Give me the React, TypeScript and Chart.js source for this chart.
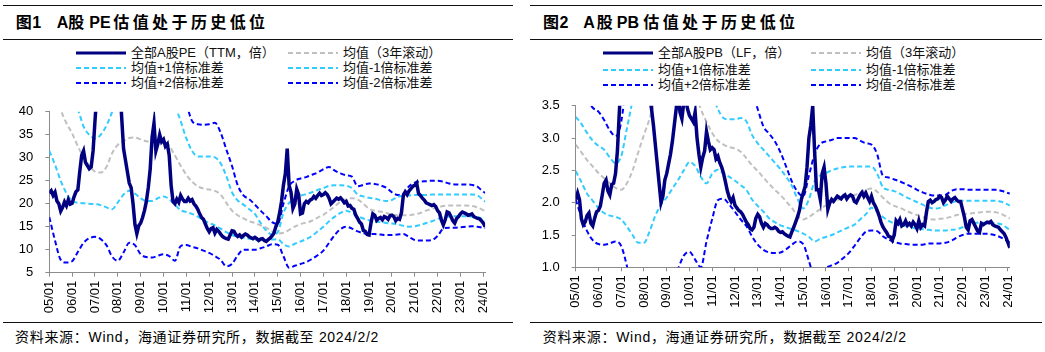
import React, { useEffect, useRef } from "react";
import { Chart, registerables } from "chart.js";

Chart.register(...registerables);

// ---------------- data ----------------
const START_YEAR = 2005;
const X_MAX = 2024.08;

const xTickLabels = [
  "05/01", "06/01", "07/01", "08/01", "09/01", "10/01", "11/01", "12/01", "13/01", "14/01",
  "15/01", "16/01", "17/01", "18/01", "19/01", "20/01", "21/01", "22/01", "23/01", "24/01",
];

const peYTicks = [5, 10, 15, 20, 25, 30, 35, 40];
const pbYTicks = [1.0, 1.5, 2.0, 2.5, 3.0, 3.5];

const peLabels = [
  "全部A股PE（TTM，倍）", "均值（3年滚动）",
  "均值+1倍标准差", "均值-1倍标准差",
  "均值+2倍标准差", "均值-2倍标准差",
];
const pbLabels = [
  "全部A股PB（LF，倍）", "均值（3年滚动）",
  "均值+1倍标准差", "均值-1倍标准差",
  "均值+2倍标准差", "均值-2倍标准差",
];

// monthly, from 2005-01
const peMain = [
  22.3, 22.8, 21.8, 22.5, 20.6, 20.0, 18.4, 19.2, 20.4, 19.6, 20.9, 19.9,
  20.1, 21.5, 22.6, 23.0, 27.0, 30.5, 31.5, 29.0, 28.3, 27.6, 28.0, 31.5,
  38.0, 44.0, 48.0, 52.0, 55.0, 50.0, 56.0, 62.0, 64.0, 66.0, 58.0, 55.0,
  52.0, 46.0, 39.0, 32.0, 29.5, 27.0, 24.5, 23.5, 20.0, 15.5, 13.5, 15.2,
  15.8, 17.0, 18.5, 20.5, 23.5, 27.5, 34.5, 37.5, 31.5, 33.0, 35.0, 33.5,
  34.0, 32.5, 33.0, 30.5, 24.0, 20.5, 20.0, 21.0, 20.3, 21.8, 21.0, 20.5,
  20.5, 21.2, 20.6, 20.9, 20.0, 19.5, 18.8, 17.8, 17.0, 16.6, 15.6, 14.6,
  13.9, 14.6, 14.8, 13.6, 14.4, 14.0, 13.4, 12.9, 12.6, 12.4, 12.3, 13.2,
  14.1, 14.0, 13.3, 12.9, 13.2, 12.7, 13.1, 13.4, 13.2, 12.8, 12.6, 12.4,
  12.7, 12.4, 12.0, 12.3, 12.4, 12.0, 11.8, 12.2, 12.5, 13.0, 13.6, 15.0,
  16.0, 18.0, 20.5, 24.0, 26.5, 32.0, 24.0, 22.5, 19.0, 20.0, 23.2, 22.0,
  17.8, 18.0, 20.0, 20.5, 20.2, 20.8, 21.0, 21.6, 21.2, 21.8, 22.3, 21.8,
  22.0, 22.4, 22.0, 21.2, 20.0, 20.4, 20.8, 21.2, 21.0, 21.3, 20.8, 20.2,
  20.5, 19.5, 19.6, 19.0, 18.8, 17.5, 16.8, 16.0, 15.6, 14.2, 14.0, 13.3,
  13.2, 15.8, 17.8, 17.5, 16.4, 16.8, 17.0, 16.5, 17.2, 17.0, 16.6, 17.4,
  17.5, 17.2, 16.3, 16.8, 16.6, 18.0, 21.8, 22.6, 22.0, 22.8, 23.3, 23.8,
  24.0, 24.5, 22.2, 21.8, 21.2, 20.8, 20.2, 20.0, 19.8, 19.6, 19.8, 19.4,
  18.5, 18.0, 16.4, 15.4, 16.5, 18.2, 18.0, 17.2, 16.3, 15.8, 16.8, 17.2,
  17.8, 18.2, 18.0, 17.8, 17.5, 17.6, 17.8, 17.2, 17.0, 16.8, 16.7, 16.3,
  15.8, 15.0,
];

// quarterly, from 2005-01
const peMean = [
  50, 45, 40.5, 37.5, 35.3, 32.5, 30.1, 28.3, 27.0, 26.8, 28.0, 31.0,
  32.8, 33.6, 34.3, 34.4, 34.0, 33.6, 33.5, 33.8, 34.0, 32.6, 30.5, 28.3,
  26.3, 24.8, 23.8, 23.3, 23.1, 22.8, 22.0, 20.2, 18.5, 17.5, 16.8, 16.2,
  15.8, 15.3, 14.8, 14.0, 13.5, 13.7, 14.3, 15.0, 15.6, 15.9, 16.3, 17.0,
  17.6, 18.5, 19.4, 20.5, 21.0, 21.2, 20.9, 20.0, 18.9, 18.5, 18.3, 18.0,
  17.7, 17.5, 17.5, 17.5, 17.7, 18.0, 18.5, 18.9, 19.2, 19.5, 19.6, 19.6,
  19.6, 19.6, 19.5, 19.2, 18.6, 18.2,
];
const pePlus1 = [
  55, 52, 48, 45, 42, 40.5, 36.8, 35.0, 34.2, 35.0, 37.0, 40.0,
  44, 46, 47, 48, 47, 46, 46, 46.5, 47, 45, 41.5, 38.0,
  34.2, 31.5, 30.3, 30.3, 30.3, 30.1, 28.8, 26.0, 22.5, 20.7, 19.8, 18.8,
  17.8, 15.8, 14.2, 13.3, 13.8, 18.0, 20.2, 21.0, 21.7, 22.1, 22.5, 23.0,
  23.4, 23.9, 24.0, 24.0, 23.9, 23.4, 22.0, 21.6, 21.3, 21.1, 20.8, 20.6,
  20.8, 21.5, 21.7, 21.8, 21.9, 21.9, 21.9, 22.0, 22.0, 22.0, 22.0, 22.0,
  22.0, 22.0, 22.0, 21.8, 20.8, 20.0,
];
const peMinus1 = [
  31.5, 28.5, 25.0, 22.3, 20.6, 20.2, 20.1, 20.0, 19.9, 19.7, 19.2, 18.8,
  20.3, 22.0, 22.8, 22.2, 21.2, 20.6, 20.6, 21.2, 21.6, 21.0, 19.8, 18.6,
  18.2, 17.8, 17.2, 16.4, 15.8, 15.3, 14.6, 13.8, 13.2, 12.8, 12.6, 12.4,
  12.2, 12.0, 12.0, 12.2, 12.3, 11.2, 10.7, 11.3, 11.8, 12.3, 13.0, 14.0,
  15.0, 16.2, 17.2, 18.0, 18.5, 18.0, 17.3, 16.8, 16.4, 16.1, 16.0, 15.8,
  15.7, 15.5, 15.2, 15.0, 15.1, 15.4, 15.8, 16.2, 16.7, 17.1, 17.2, 17.3,
  17.3, 17.3, 17.2, 17.1, 16.6, 16.2,
];
const pePlus2 = [
  70, 66, 62, 58, 54, 50, 47, 45, 44, 46, 50, 55,
  58, 60, 61, 62, 61, 60, 60, 60, 60, 58, 53, 47,
  42, 38.0, 37.3, 37.2, 37.3, 37.6, 35.5, 31.8, 28.2, 24.0, 21.8, 21.0,
  19.8, 18.5, 17.3, 16.0, 15.6, 20.0, 23.8, 25.0, 25.5, 25.8, 26.3, 26.8,
  27.5, 28.0, 27.2, 26.6, 26.2, 25.9, 23.8, 24.1, 24.4, 24.3, 24.0, 23.5,
  22.5, 21.9, 22.2, 23.8, 24.6, 24.8, 24.9, 25.0, 25.0, 24.8, 24.4, 24.2,
  24.2, 24.2, 24.1, 23.7, 22.6, 22.0,
];
const peMinus2 = [
  17.1, 12.0, 7.8, 7.2, 7.5, 9.5, 11.5, 12.5, 12.8, 12.3, 11.0, 8.5,
  7.6, 9.4, 11.5, 11.0, 9.0, 8.4, 8.3, 8.7, 9.0, 8.6, 7.6, 10.8,
  11.0, 10.6, 10.3, 9.8, 9.3, 8.6, 7.8, 6.4, 6.9, 8.8, 10.0, 10.0,
  10.0, 10.3, 10.7, 11.2, 11.1, 8.6, 6.1, 6.5, 6.9, 7.3, 8.0, 8.8,
  9.8, 11.5, 13.2, 14.5, 15.0, 14.6, 14.0, 13.6, 13.4, 13.4, 13.3, 13.2,
  13.2, 13.3, 13.4, 12.8, 12.1, 12.0, 12.0, 12.1, 13.0, 14.6, 14.8, 14.8,
  14.9, 15.0, 15.1, 15.0, 14.8, 14.7,
];

// monthly, from 2005-01
const pbMain = [
  2.05, 2.15, 2.05, 1.75, 1.66, 1.70, 1.80, 1.84, 1.68, 1.64, 1.76, 1.86,
  1.88, 1.95, 2.12, 2.30, 2.35, 2.18, 2.12, 2.28, 2.30, 2.45, 2.80, 3.40,
  3.90, 4.20, 4.60, 5.00, 5.50, 5.30, 5.80, 6.30, 6.60, 6.90, 6.00, 5.80,
  5.20, 4.60, 4.00, 3.65, 3.45, 3.20, 2.90, 2.60, 2.30, 2.00, 2.10, 2.35,
  2.45, 2.60, 2.75, 2.95, 3.20, 3.45, 3.75, 3.40, 3.30, 3.55, 3.60, 3.45,
  3.35, 3.30, 3.25, 3.40, 3.00, 2.75, 2.55, 2.70, 2.80, 3.10, 2.95, 2.82,
  2.85, 2.82, 2.68, 2.72, 2.62, 2.55, 2.45, 2.32, 2.18, 2.08, 2.02, 2.08,
  1.96, 1.92, 1.88, 1.86, 1.82, 1.76, 1.70, 1.66, 1.60, 1.58, 1.62, 1.76,
  1.82, 1.78, 1.68, 1.62, 1.68, 1.66, 1.62, 1.60, 1.60, 1.62, 1.60, 1.56,
  1.54, 1.55, 1.52, 1.50, 1.48, 1.47, 1.55, 1.62, 1.70, 1.78, 1.88, 2.05,
  2.15, 2.25, 2.55, 3.00, 3.20, 3.50, 2.80, 2.20, 2.20, 2.05, 2.45, 2.55,
  2.30, 1.90, 2.00, 2.05, 2.02, 2.06, 2.10, 2.08, 2.06, 2.10, 2.12, 2.06,
  2.10, 2.12, 2.10, 2.02, 2.00, 2.06, 2.12, 2.16, 2.10, 2.15, 2.08, 2.02,
  2.10, 2.00, 1.95, 1.88, 1.80, 1.70, 1.63, 1.58, 1.54, 1.48, 1.47, 1.42,
  1.50, 1.72, 1.68, 1.74, 1.64, 1.66, 1.72, 1.65, 1.68, 1.64, 1.70, 1.66,
  1.60, 1.72, 1.62, 1.66, 1.64, 1.85, 2.02, 2.04, 2.00, 2.02, 2.05, 2.06,
  2.10, 2.08, 2.00, 2.04, 2.10, 2.06, 2.02, 2.06, 2.08, 2.04, 2.02, 2.02,
  1.90, 1.78, 1.62, 1.58, 1.72, 1.74, 1.68, 1.62, 1.56, 1.54, 1.68, 1.66,
  1.68, 1.70, 1.69, 1.71, 1.66, 1.64, 1.63, 1.62, 1.58, 1.55, 1.52, 1.46,
  1.38, 1.30,
];

// quarterly, from 2005-01
const pbMean = [
  2.90, 2.78, 2.66, 2.56, 2.46, 2.38, 2.30, 2.23, 2.20, 2.30, 2.50, 2.78,
  3.05, 3.30, 3.60, 3.85, 3.95, 4.00, 4.00, 3.98, 3.92, 3.70, 3.45, 3.25,
  3.08, 2.96, 2.90, 2.86, 2.84, 2.79, 2.69, 2.58, 2.49, 2.39, 2.29, 2.20,
  2.12, 2.02, 1.92, 1.80, 1.74, 1.78, 1.84, 1.90, 1.96, 2.00, 2.04, 2.07,
  2.10, 2.12, 2.15, 2.20, 2.22, 2.17, 2.08, 2.00, 1.95, 1.92, 1.88, 1.84,
  1.81, 1.78, 1.75, 1.74, 1.75, 1.76, 1.78, 1.81, 1.82, 1.83, 1.84, 1.85,
  1.86, 1.86, 1.85, 1.82, 1.77, 1.74,
];
const pbPlus1 = [
  3.33, 3.22, 3.08, 2.96, 2.88, 2.82, 2.70, 2.61, 2.72, 3.15, 3.60, 4.20,
  4.70, 5.00, 5.20, 5.30, 5.30, 5.20, 5.10, 5.00, 4.90, 4.70, 4.40, 4.00,
  3.70, 3.45, 3.31, 3.29, 3.29, 3.31, 3.26, 3.05, 2.92, 2.82, 2.72, 2.62,
  2.52, 2.40, 2.26, 2.06, 1.91, 2.05, 2.33, 2.42, 2.46, 2.50, 2.53, 2.55,
  2.56, 2.56, 2.56, 2.56, 2.56, 2.45, 2.24, 2.20, 2.18, 2.14, 2.09, 2.05,
  2.01, 1.97, 1.93, 1.91, 1.92, 1.96, 2.00, 2.02, 2.03, 2.03, 2.03, 2.03,
  2.03, 2.03, 2.03, 2.01, 1.97, 1.94,
];
const pbMinus1 = [
  2.49, 2.32, 2.14, 2.03, 1.92, 1.84, 1.80, 1.78, 1.74, 1.63, 1.50, 1.38,
  1.38, 1.56, 1.80, 1.97, 2.08, 2.22, 2.35, 2.50, 2.63, 2.57, 2.40, 2.30,
  2.45, 2.51, 2.45, 2.40, 2.34, 2.27, 2.20, 2.05, 1.95, 1.86, 1.76, 1.70,
  1.65, 1.62, 1.59, 1.56, 1.52, 1.47, 1.40, 1.44, 1.47, 1.50, 1.54, 1.58,
  1.62, 1.66, 1.74, 1.82, 1.92, 1.86, 1.78, 1.72, 1.68, 1.66, 1.64, 1.62,
  1.60, 1.59, 1.58, 1.57, 1.57, 1.57, 1.58, 1.59, 1.62, 1.67, 1.69, 1.69,
  1.69, 1.69, 1.68, 1.66, 1.60, 1.56,
];
const pbPlus2 = [
  4.20, 3.95, 3.62, 3.47, 3.41, 3.28, 3.12, 3.03, 3.25, 4.00, 5.00, 5.60,
  6.00, 6.30, 6.50, 6.60, 6.60, 6.50, 6.40, 6.30, 6.20, 5.90, 5.50, 5.00,
  4.60, 4.35, 4.05, 3.95, 3.95, 4.00, 3.90, 3.70, 3.45, 3.18, 3.07, 2.95,
  2.78, 2.56, 2.33, 2.17, 2.10, 2.42, 2.75, 2.91, 2.95, 2.97, 3.00, 3.00,
  3.00, 3.00, 2.96, 2.92, 2.90, 2.75, 2.42, 2.39, 2.36, 2.33, 2.29, 2.25,
  2.20, 2.16, 2.13, 2.11, 2.11, 2.12, 2.18, 2.21, 2.21, 2.20, 2.20, 2.20,
  2.20, 2.20, 2.20, 2.18, 2.15, 2.13,
];
const pbMinus2 = [
  2.05, 1.78, 1.56, 1.42, 1.36, 1.35, 1.37, 1.40, 1.33, 1.02, 0.60, 0.30,
  0.20, 0.20, 0.30, 0.45, 0.60, 0.80, 0.98, 1.18, 1.24, 1.12, 1.00, 1.40,
  1.75, 2.04, 2.06, 1.97, 1.86, 1.74, 1.64, 1.48, 1.35, 1.27, 1.23, 1.22,
  1.23, 1.28, 1.35, 1.40, 1.36, 1.10, 0.85, 0.90, 0.99, 1.03, 1.07, 1.14,
  1.22, 1.33, 1.45, 1.55, 1.57, 1.56, 1.48, 1.43, 1.39, 1.37, 1.36, 1.35,
  1.35, 1.35, 1.37, 1.37, 1.37, 1.38, 1.41, 1.46, 1.50, 1.52, 1.52, 1.52,
  1.52, 1.51, 1.49, 1.45, 1.40, 1.37,
];

// ---------------- styles ----------------
const NAVY = "#000080";
const GRAY = "#C0C0C0";
const SKY = "#33CCFF";
const BLUE = "#0000FF";
const AXIS = "#8C8C8C";
const FONT_LATIN = '"Liberation Sans", Arial, sans-serif';
const FONT_MIXED = '"Liberation Sans", "Noto Sans CJK SC", sans-serif';

const seriesStyles = [
  { color: NAVY, width: 3.5, dash: [] as number[] },
  { color: GRAY, width: 2, dash: [5, 3] },
  { color: SKY, width: 2, dash: [5, 3] },
  { color: SKY, width: 2, dash: [5, 3] },
  { color: BLUE, width: 2, dash: [5, 3] },
  { color: BLUE, width: 2, dash: [5, 3] },
];

type ChartCfg = {
  left: number; top: number; width: number; height: number;
  padTop: number; padRight: number; yAxisW: number; xAxisH: number;
  yMin: number; yMax: number; yTicks: number[]; decimals: number;
  labels: string[]; main: number[]; bands: number[][];
};

function ValuationChart({ cfg }: { cfg: ChartCfg }) {
  const ref = useRef<HTMLCanvasElement | null>(null);
  useEffect(() => {
    if (!ref.current) return;
    const monthly = (arr: number[]) => arr.map((v, i) => ({ x: START_YEAR + i / 12, y: v }));
    const quarterly = (arr: number[]) => arr.map((v, i) => ({ x: START_YEAR + i / 4, y: v }));
    const all = [cfg.main, ...cfg.bands];
    const datasets = all.map((arr, k) => ({
      label: cfg.labels[k],
      data: k === 0 ? monthly(arr) : quarterly(arr),
      borderColor: seriesStyles[k].color,
      borderWidth: seriesStyles[k].width,
      borderDash: seriesStyles[k].dash,
      pointRadius: 0,
      fill: false,
      tension: k === 0 ? 0 : 0.4,
      cubicInterpolationMode: k === 0 ? "default" : "monotone",
      clip: 0,
    }));
    const tickFont = { family: FONT_LATIN, size: 13 };
    const chart = new Chart(ref.current, {
      type: "line",
      data: { datasets: datasets as any },
      options: {
        animation: false,
        responsive: false,
        events: [],
        layout: { padding: { top: cfg.padTop, right: cfg.padRight, left: 0, bottom: 0 } },
        plugins: { legend: { display: false }, tooltip: { enabled: false }, title: { display: false } },
        scales: {
          x: {
            type: "linear",
            min: START_YEAR,
            max: X_MAX,
            afterBuildTicks: (s: any) => {
              s.ticks = xTickLabels.map((_, i) => ({ value: START_YEAR + i }));
            },
            afterFit: (s: any) => { s.height = cfg.xAxisH; },
            ticks: {
              autoSkip: false,
              minRotation: 90,
              maxRotation: 90,
              padding: 4,
              color: "#000",
              font: tickFont,
              callback: (_v: any, i: number) => xTickLabels[i],
            },
            grid: { display: true, drawOnChartArea: false, drawTicks: true, tickLength: 4, color: AXIS },
            border: { display: true, color: AXIS, width: 1 },
          },
          y: {
            type: "linear",
            min: cfg.yMin,
            max: cfg.yMax,
            afterBuildTicks: (s: any) => {
              s.ticks = cfg.yTicks.map((v) => ({ value: v }));
            },
            afterFit: (s: any) => { s.width = cfg.yAxisW; },
            ticks: {
              padding: 12,
              color: "#000",
              font: tickFont,
              callback: (v: any) => Number(v).toFixed(cfg.decimals),
            },
            grid: { display: true, drawOnChartArea: false, drawTicks: true, tickLength: 4, color: AXIS },
            border: { display: true, color: AXIS, width: 1 },
          },
        },
      } as any,
    });
    return () => chart.destroy();
  }, []);
  return (
    <canvas
      ref={ref}
      width={cfg.width}
      height={cfg.height}
      style={{ position: "absolute", left: cfg.left, top: cfg.top, width: cfg.width, height: cfg.height }}
    />
  );
}

function Rule({ left, top, width }: { left: number; top: number; width: number }) {
  return <div style={{ position: "absolute", left, top, width, height: 1, background: "#111" }} />;
}

// each title glyph placed at its own offset (px from the title's left edge)
const peTitle: [string, number][] = [
  ["图", 0], ["1", 16.6], ["A", 41], ["股", 52.6], ["P", 73.6], ["E", 84.3],
  ["估", 97.6], ["值", 117], ["处", 136.4], ["于", 155.8], ["历", 175.2], ["史", 194.6], ["低", 214], ["位", 233.4],
];
const pbTitle: [string, number][] = [
  ["图", 0], ["2", 16.6], ["A", 40.3], ["股", 53.7], ["P", 73.7], ["B", 84.5],
  ["估", 100.3], ["值", 119.7], ["处", 139.1], ["于", 158.5], ["历", 177.9], ["史", 197.3], ["低", 216.7], ["位", 236.1],
];

function Title({ left, glyphs }: { left: number; glyphs: [string, number][] }) {
  return (
    <>
      {glyphs.map(([ch, dx], i) => (
        <span key={i} style={{
          position: "absolute", left: left + dx, top: 15, fontSize: 16, lineHeight: "16px", fontWeight: 700,
          fontFamily: FONT_MIXED, color: "#000", whiteSpace: "pre",
        }}>{ch}</span>
      ))}
    </>
  );
}

function Legend({ labels, col1, col2, rows }: { labels: string[]; col1: number; col2: number; rows: number[] }) {
  const items = labels.map((label, k) => {
    const col = k % 2 === 0 ? col1 : col2;
    const cy = rows[Math.floor(k / 2)];
    const st = seriesStyles[k];
    return (
      <React.Fragment key={k}>
        <svg width={50} height={8} style={{ position: "absolute", left: col, top: cy - 4 }}>
          <line x1={0} y1={4} x2={50} y2={4} stroke={st.color} strokeWidth={Math.min(st.width, 3)}
            strokeDasharray={st.dash.length ? st.dash.join(" ") : undefined} />
        </svg>
        <div style={{
          position: "absolute", left: col + 55, top: cy - 8, fontSize: 13, lineHeight: "16px",
          fontFamily: FONT_MIXED, color: "#111", whiteSpace: "pre",
        }}>{label}</div>
      </React.Fragment>
    );
  });
  return <>{items}</>;
}

function Source({ left }: { left: number }) {
  return (
    <div style={{
      position: "absolute", left, top: 328.5, fontSize: 14, lineHeight: "16px", letterSpacing: 0.7,
      fontFamily: FONT_MIXED, color: "#000", whiteSpace: "pre",
    }}>资料来源：Wind，海通证券研究所，数据截至 2024/2/2</div>
  );
}

const peCfg: ChartCfg = {
  left: 0, top: 92, width: 515, height: 230,
  padTop: 9.7, padRight: 29.9, yAxisW: 49.3, xAxisH: 49.3,
  yMin: 5, yMax: 40, yTicks: peYTicks, decimals: 0,
  labels: peLabels, main: peMain, bands: [peMean, pePlus1, peMinus1, pePlus2, peMinus2],
};

const pbCfg: ChartCfg = {
  left: 525, top: 86, width: 520, height: 236,
  padTop: 9, padRight: 35.2, yAxisW: 50.7, xAxisH: 54.7,
  yMin: 1.0, yMax: 3.5, yTicks: pbYTicks, decimals: 1,
  labels: pbLabels, main: pbMain, bands: [pbMean, pbPlus1, pbMinus1, pbPlus2, pbMinus2],
};

export default function App() {
  return (
    <div style={{ position: "absolute", left: 0, top: 0, width: 1045, height: 352, background: "#fff", overflow: "hidden" }}>
      {/* left panel */}
      <Rule left={3} top={5} width={510} />
      <Title left={15.7} glyphs={peTitle} />
      <Rule left={3} top={39} width={510} />
      <Legend labels={peLabels} col1={76} col2={288} rows={[52.7, 68.3, 82.7]} />
      <ValuationChart cfg={peCfg} />
      <Rule left={3} top={322} width={510} />
      <Source left={15} />

      {/* right panel */}
      <Rule left={530} top={5} width={512} />
      <Title left={543} glyphs={pbTitle} />
      <Rule left={530} top={39} width={512} />
      <Legend labels={pbLabels} col1={603} col2={811} rows={[53.3, 69.5, 84.5]} />
      <ValuationChart cfg={pbCfg} />
      <Rule left={530} top={322} width={512} />
      <Source left={542.7} />
    </div>
  );
}
